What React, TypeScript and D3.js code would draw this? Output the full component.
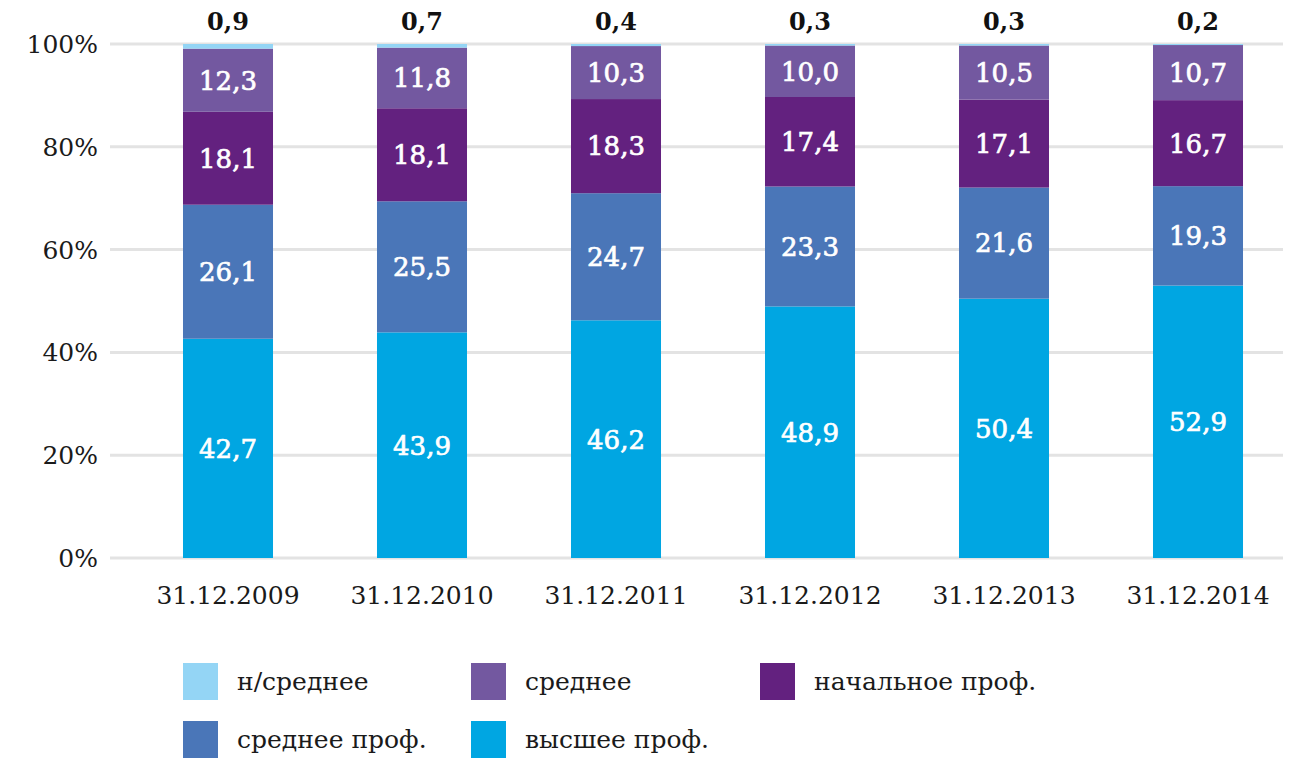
import React from "react";
import * as d3 from "d3";

// categories and series (percent shares)
const dates = ["31.12.2009", "31.12.2010", "31.12.2011", "31.12.2012", "31.12.2013", "31.12.2014"];
const vyssheeProf = [42.7, 43.9, 46.2, 48.9, 50.4, 52.9];
const sredneeProf = [26.1, 25.5, 24.7, 23.3, 21.6, 19.3];
const nachalnoeProf = [18.1, 18.1, 18.3, 17.4, 17.1, 16.7];
const srednee = [12.3, 11.8, 10.3, 10.0, 10.5, 10.7];
const neSrednee = [0.9, 0.7, 0.4, 0.3, 0.3, 0.2];
const yTicks = [0, 20, 40, 60, 80, 100];

const seriesKeys = ["vyssh", "srProf", "nachProf", "sred", "neSred"];
const seriesNames: Record<string, string> = {
  vyssh: "высшее проф.",
  srProf: "среднее проф.",
  nachProf: "начальное проф.",
  sred: "среднее",
  neSred: "н/среднее",
};
const colors: Record<string, string> = {
  vyssh: "#00a6e2",
  srProf: "#4a76b8",
  nachProf: "#63217f",
  sred: "#7358a0",
  neSred: "#94d5f5",
};

const rows = dates.map((d, i) => ({
  date: d,
  vyssh: vyssheeProf[i],
  srProf: sredneeProf[i],
  nachProf: nachalnoeProf[i],
  sred: srednee[i],
  neSred: neSrednee[i],
}));

const font = "'DejaVu Serif', serif";
const fmt = (v: number) => v.toFixed(1).replace(".", ",");

//legend layout, rows as in the picture
const legendItems = [
  { key: "neSred", x: 183, y: 663 },
  { key: "sred", x: 471, y: 663 },
  { key: "nachProf", x: 760, y: 663 },
  { key: "srProf", x: 183, y: 721 },
  { key: "vyssh", x: 471, y: 721 },
];

export default function App() {
  const W = 1303, H = 758;
  const x = d3.scaleBand().domain(dates).range([131, 1295]).paddingInner(0.536).paddingOuter(0.268);
  const y = d3.scaleLinear().domain([0, 100]).range([558, 44]);

  const series = d3.stack<any>().keys(seriesKeys).offset(d3.stackOffsetExpand)(rows);
  const yp = (v: number) => y(v * 100);

  return (
    <svg width={W} height={H} style={{ position: "absolute", left: 0, top: 0, background: "#fff" }}>
      {yTicks.map((t) => (
        <g key={t}>
          <line x1={110} x2={1283} y1={y(t)} y2={y(t)} stroke="#e3e3e3" strokeWidth={3} />
          <text x={98} y={y(t)} dy="0.36em" textAnchor="end" fontFamily={font} fontSize={25} fill="#1a1a1a">
            {t}%
          </text>
        </g>
      ))}

      {series.map((s) => (
        <g key={s.key} fill={colors[s.key]}>
          {s.map((d, i) => {
            const x0 = x(rows[i].date)!;
            const top = yp(d[1]);
            const bot = yp(d[0]);
            const val = (rows[i] as any)[s.key] as number;
            return (
              <g key={i}>
                <rect x={x0} y={top} width={x.bandwidth()} height={bot - top} />
                {s.key === "neSred" ? (
                  <text x={x0 + x.bandwidth() / 2} y={top - 14} textAnchor="middle" fontFamily={font}
                    fontSize={24} fontWeight="bold" fill="#111">{fmt(val)}</text>
                ) : (
                  <text x={x0 + x.bandwidth() / 2} y={(top + bot) / 2} dy="0.36em" textAnchor="middle"
                    fontFamily={font} fontSize={26} fill="#fff" stroke="#fff" strokeWidth={0.7}>{fmt(val)}</text>
                )}
              </g>
            );
          })}
        </g>
      ))}

      {dates.map((d) => (
        <text key={d} x={x(d)! + x.bandwidth() / 2} y={595} dy="0.36em" textAnchor="middle"
          fontFamily={font} fontSize={25} fill="#1a1a1a">{d}</text>
      ))}

      {legendItems.map((it) => (
        <g key={it.key}>
          <rect x={it.x} y={it.y} width={35} height={37} fill={colors[it.key]} />
          <text x={it.x + 54} y={it.y + 18} dy="0.36em" fontFamily={font} fontSize={25} fill="#1a1a1a">
            {seriesNames[it.key]}
          </text>
        </g>
      ))}
    </svg>
  );
}
